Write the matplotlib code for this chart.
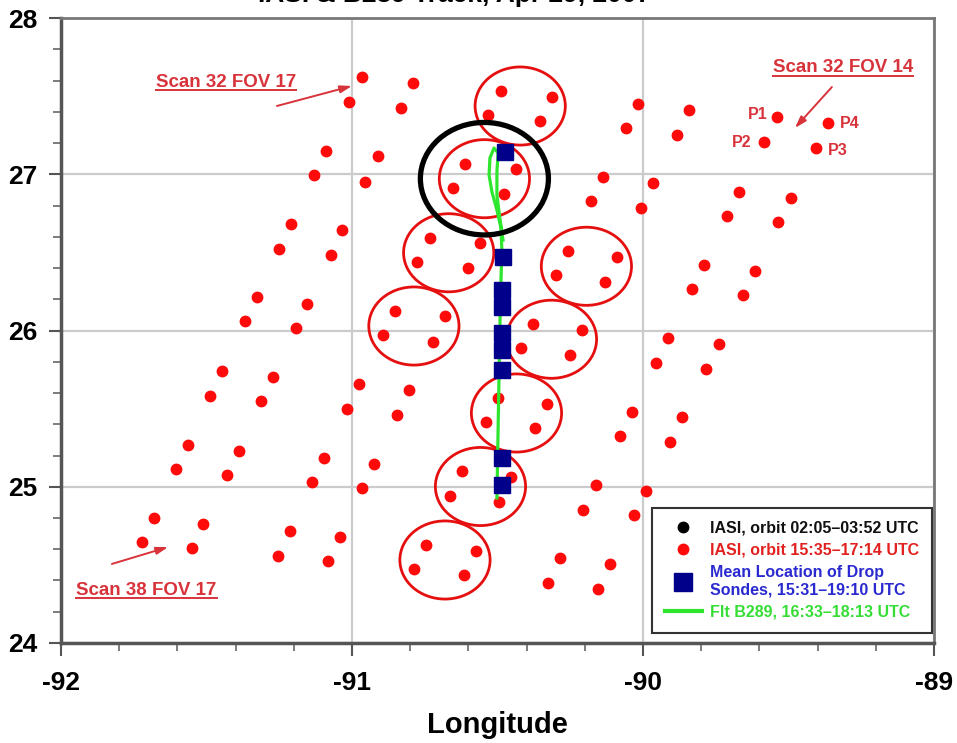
import matplotlib
matplotlib.use("Agg")
import matplotlib.pyplot as plt
from matplotlib.patches import Ellipse
from matplotlib.lines import Line2D
from matplotlib.ticker import MultipleLocator
import numpy as np

plt.rcParams['font.family'] = ['Liberation Sans', 'DejaVu Sans']
plt.rcParams['font.weight'] = 'bold'
plt.rcParams['axes.unicode_minus'] = False

# IASI footprints, orbit 15:35-17:14 UTC.
# Each FOV column lists scans 32..38, four pixels per scan (P1, P2, P3, P4).
scans = [32, 33, 34, 35, 36, 37, 38]

fov17_lon = [-90.966, -91.010, -90.832, -90.790,
             -91.089, -91.131, -90.955, -90.911,
             -91.210, -91.251, -91.072, -91.034,
             -91.327, -91.368, -91.193, -91.155,
             -91.447, -91.488, -91.313, -91.272,
             -91.564, -91.605, -91.430, -91.388,
             -91.680, -91.722, -91.550, -91.512]
fov17_lat = [27.622, 27.462, 27.424, 27.584,
             27.149, 26.995, 26.950, 27.117,
             26.682, 26.522, 26.483, 26.643,
             26.214, 26.061, 26.016, 26.170,
             25.741, 25.581, 25.549, 25.702,
             25.267, 25.114, 25.075, 25.229,
             24.800, 24.646, 24.608, 24.762]

fov16_lon = [-90.488, -90.533, -90.354, -90.313,
             -90.612, -90.653, -90.478, -90.437,
             -90.732, -90.777, -90.602, -90.560,
             -90.852, -90.894, -90.722, -90.681,
             -90.976, -91.017, -90.846, -90.804,
             -91.096, -91.138, -90.966, -90.925,
             -91.213, -91.254, -91.083, -91.041]
fov16_lat = [27.533, 27.379, 27.341, 27.494,
             27.066, 26.912, 26.874, 27.034,
             26.592, 26.438, 26.400, 26.560,
             26.125, 25.971, 25.926, 26.093,
             25.658, 25.498, 25.459, 25.619,
             25.184, 25.030, 24.992, 25.146,
             24.717, 24.557, 24.525, 24.678]

fov15_lon = [-90.017, -90.059, -89.883, -89.842,
             -90.138, -90.179, -90.007, -89.966,
             -90.258, -90.299, -90.131, -90.090,
             -90.378, -90.419, -90.251, -90.210,
             -90.498, -90.540, -90.371, -90.330,
             -90.622, -90.663, -90.495, -90.454,
             -90.746, -90.787, -90.615, -90.574]
fov15_lat = [27.450, 27.296, 27.251, 27.411,
             26.982, 26.829, 26.784, 26.944,
             26.509, 26.355, 26.310, 26.470,
             26.042, 25.888, 25.843, 26.003,
             25.568, 25.414, 25.376, 25.530,
             25.101, 24.941, 24.902, 25.062,
             24.627, 24.474, 24.435, 24.589]

fov14_lon = [-89.540, -89.584, -89.406, -89.365,
             -89.670, -89.712, -89.536, -89.492,
             -89.791, -89.832, -89.657, -89.615,
             -89.914, -89.956, -89.784, -89.739,
             -90.038, -90.079, -89.907, -89.866,
             -90.162, -90.206, -90.031, -89.990,
             -90.285, -90.327, -90.155, -90.114]
fov14_lat = [27.366, 27.206, 27.168, 27.328,
             26.886, 26.733, 26.694, 26.848,
             26.419, 26.266, 26.227, 26.381,
             25.952, 25.792, 25.754, 25.914,
             25.478, 25.325, 25.286, 25.446,
             25.011, 24.851, 24.819, 24.973,
             24.544, 24.384, 24.346, 24.506]

# footprint groups circled as collocated with the flight track: (fov, scan)
circled = [(16, 32), (16, 33), (16, 34), (16, 35),
           (15, 34), (15, 35), (15, 36), (15, 37), (15, 38)]
highlighted = (16, 33)

# mean dropsonde locations, 15:31-19:10 UTC
sonde_lon = [-90.474, -90.481, -90.485, -90.485, -90.485,
             -90.485, -90.485, -90.485, -90.485]
sonde_lat = [27.142, 26.470, 26.259, 26.150, 25.984,
             25.875, 25.747, 25.184, 25.011]

# flight B289 track, 16:33-18:13 UTC
track_lon = [-90.502, -90.498, -90.495, -90.492, -90.488, -90.485,
             -90.488, -90.502, -90.519, -90.529, -90.526, -90.512,
             -90.498, -90.502, -90.502, -90.492, -90.481]
track_lat = [24.928, 25.363, 25.683, 26.003, 26.323, 26.515,
             26.656, 26.771, 26.886, 26.995, 27.104, 27.168,
             27.136, 27.014, 26.867, 26.720, 26.579]

fovs = {17: (fov17_lon, fov17_lat), 16: (fov16_lon, fov16_lat),
        15: (fov15_lon, fov15_lat), 14: (fov14_lon, fov14_lat)}

RED = '#ff0a0a'
LABEL_RED = '#d8333b'
NAVY = '#00008b'
GREEN = '#2ee62e'

fig = plt.figure(figsize=(9.57, 7.43), dpi=100)
ax = fig.add_axes([61 / 957, 1 - 643 / 743, 873 / 957, 625 / 743])

ax.set_xlim(-92, -89)
ax.set_ylim(24, 28)
ax.xaxis.set_major_locator(MultipleLocator(1))
ax.yaxis.set_major_locator(MultipleLocator(1))
ax.xaxis.set_minor_locator(MultipleLocator(0.2))
ax.yaxis.set_minor_locator(MultipleLocator(0.2))
ax.grid(True, which='major', color='#cbcbcb', lw=1.6)
ax.set_axisbelow(True)
ax.tick_params(which='major', direction='out', length=9, width=1.5,
               color='#555555', labelsize=19)
ax.tick_params(axis='x', which='major', pad=11)
ax.tick_params(axis='y', which='major', pad=8)
ax.tick_params(which='minor', direction='out', length=6, width=1.2,
               color='#666666')
for lab in ax.get_xticklabels() + ax.get_yticklabels():
    lab.set_fontweight('bold')
for side in ['left', 'bottom']:
    ax.spines[side].set_linewidth(2.5)
    ax.spines[side].set_color('#555555')
for side in ['top', 'right']:
    ax.spines[side].set_linewidth(2.0)
    ax.spines[side].set_color('#777777')

ax.set_xlabel('Longitude', fontsize=21, fontweight='bold', labelpad=12)

# footprints
for fov, (lon, lat) in fovs.items():
    ax.plot(lon, lat, 'o', color=RED, markersize=7.5, mec=RED, zorder=4)

# circles around collocated groups
def group(fov, scan):
    lon, lat = fovs[fov]
    i = scans.index(scan) * 4
    return np.array(lon[i:i + 4]), np.array(lat[i:i + 4])

for fov, scan in circled:
    glon, glat = group(fov, scan)
    ax.add_patch(Ellipse((glon.mean(), glat.mean()), 0.31, 0.50, fill=False,
                         ec='#e60f0f', lw=2.0, zorder=3))

glon, glat = group(*highlighted)
ax.add_patch(Ellipse((glon.mean(), glat.mean()), 0.44, 0.72, fill=False,
                     ec='black', lw=3.8, zorder=7))

# flight track and sondes
ax.plot(track_lon, track_lat, '-', color=GREEN, lw=2.3, zorder=5)
ax.plot(sonde_lon, sonde_lat, 's', color=NAVY, markersize=11.5, zorder=6)

# pixel labels for scan 32 FOV 14
plon, plat = group(14, 32)
for k, (name, dx, dy, ha) in enumerate([('P1', -7, 2, 'right'), ('P2', -9, 0, 'right'),
                                        ('P3', 9, -2, 'left'), ('P4', 9, 0, 'left')]):
    ax.annotate(name, (plon[k], plat[k]), xytext=(dx, dy), textcoords='offset points',
                ha=ha, va='center', fontsize=11.5, fontweight='bold', color=LABEL_RED)

# scan/FOV callouts
arrow = dict(arrowstyle='-|>,head_length=0.7,head_width=0.22', color=LABEL_RED, lw=1.4,
             shrinkA=0, shrinkB=0)
callouts = [
    ('Scan 32 FOV 17', (-91.433, 27.590), (-91.258, 27.437), (-91.000, 27.565)),
    ('Scan 32 FOV 14', (-89.313, 27.680), (-89.351, 27.558), (-89.478, 27.296)),
    ('Scan 38 FOV 17', (-91.706, 24.333), (-91.825, 24.506), (-91.632, 24.614)),
]
texts = []
for label, pos, tail, head in callouts:
    t = ax.text(pos[0], pos[1], label, ha='center', va='center', fontsize=13.5,
                fontweight='bold', color=LABEL_RED, zorder=8)
    texts.append(t)
    ax.annotate('', xy=head, xytext=tail, arrowprops=arrow, zorder=8)

# legend
handles = [
    Line2D([], [], marker='o', ls='', color='black', markersize=7.5),
    Line2D([], [], marker='o', ls='', color=RED, markersize=7.5),
    Line2D([], [], marker='s', ls='', color=NAVY, markersize=12.5),
    Line2D([], [], color=GREEN, lw=3),
]
labels = ['IASI, orbit 02:05\u201303:52 UTC',
          'IASI, orbit 15:35\u201317:14 UTC',
          'Mean Location of Drop\nSondes, 15:31\u201319:10 UTC',
          'Flt B289, 16:33\u201318:13 UTC']
leg = ax.legend(handles, labels, loc='upper left',
                bbox_to_anchor=((652 - 61) / 873, (643 - 508) / 625),
                borderaxespad=0, fancybox=False, framealpha=1, edgecolor='#333333',
                prop={'size': 11.5, 'weight': 'bold'}, handlelength=2.3,
                labelspacing=0.45, borderpad=0.8, handletextpad=0.55,
                labelcolor=['#111111', '#e32020', '#2a2ad0', '#35dd35'])
leg.get_frame().set_linewidth(1.5)
leg.set_zorder(10)

fig.text(0.475, 1 - 2 / 743, 'IASI & B289 Track, Apr 29, 2007', ha='center',
         va='baseline', fontsize=19, fontweight='bold')

# underline the callout labels
fig.canvas.draw()
renderer = fig.canvas.get_renderer()
inv = fig.transFigure.inverted()
for t in texts:
    bb = t.get_window_extent(renderer=renderer)
    (x0, y0), (x1, _) = inv.transform([(bb.x0, bb.y0 + 1), (bb.x1, bb.y0)])
    fig.add_artist(Line2D([x0, x1], [y0, y0], transform=fig.transFigure,
                          color=LABEL_RED, lw=1.4))

fig.savefig('out.png', dpi=100)
